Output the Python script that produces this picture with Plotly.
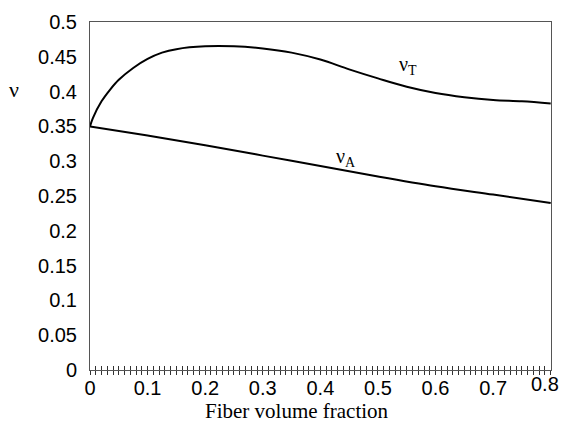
import plotly.graph_objects as go

# Data
vf_T = [0.0, 0.005, 0.02, 0.035, 0.05, 0.075, 0.1, 0.125, 0.15, 0.2, 0.25, 0.3, 0.35, 0.4, 0.45, 0.5, 0.55, 0.6, 0.65, 0.7, 0.75, 0.8]
nu_T = [0.35, 0.362, 0.386, 0.403, 0.417, 0.434, 0.447, 0.456, 0.461, 0.465, 0.465, 0.462, 0.456, 0.446, 0.432, 0.419, 0.407, 0.398, 0.392, 0.388, 0.386, 0.383]

vf_A = [0.0, 0.1, 0.2, 0.3, 0.4, 0.5, 0.6, 0.7, 0.8]
nu_A = [0.35, 0.337, 0.323, 0.308, 0.293, 0.278, 0.264, 0.252, 0.24]

x_ticks = [0, 0.1, 0.2, 0.3, 0.4, 0.5, 0.6, 0.7, 0.8]
x_tick_text = ["0", "0.1", "0.2", "0.3", "0.4", "0.5", "0.6", "0.7", "0.8"]
y_ticks = [0, 0.05, 0.1, 0.15, 0.2, 0.25, 0.3, 0.35, 0.4, 0.45, 0.5]
y_tick_text = ["0", "0.05", "0.1", "0.15", "0.2", "0.25", "0.3", "0.35", "0.4", "0.45", "0.5"]

fig = go.Figure()
fig.add_trace(go.Scatter(x=vf_T, y=nu_T, mode="lines", line=dict(color="black", width=2, shape="spline", smoothing=1.0), showlegend=False))
fig.add_trace(go.Scatter(x=vf_A, y=nu_A, mode="lines", line=dict(color="black", width=2, shape="spline"), showlegend=False))
fig.add_trace(go.Scatter(x=[0, 0.8], y=[0, 0], xaxis="x2", mode="lines", line=dict(width=0), hoverinfo="skip", showlegend=False))

annotations = [
    dict(text="Fiber volume fraction", xref="paper", yref="paper", x=0.448, y=-0.119,
         showarrow=False, xanchor="center", yanchor="middle",
         font=dict(family="Liberation Serif, Times New Roman", size=21)),
    dict(text="ν", xref="paper", yref="paper", x=-0.165, y=0.807,
         showarrow=False, xanchor="center", yanchor="middle",
         font=dict(family="Liberation Serif, Times New Roman", size=22)),
    dict(text="ν<sub>T</sub>", x=0.553, y=0.438, xref="x", yref="y",
         showarrow=False, xanchor="center", yanchor="middle",
         font=dict(family="Liberation Serif, Times New Roman", size=20)),
    dict(text="ν<sub>A</sub>", x=0.445, y=0.306, xref="x", yref="y",
         showarrow=False, xanchor="center", yanchor="middle",
         font=dict(family="Liberation Serif, Times New Roman", size=20)),
    # last x tick label, nudged left so it stays inside the page like in the reference
    dict(text=x_tick_text[-1], x=x_ticks[-1], y=0, xref="x", yref="paper",
         showarrow=False, xanchor="center", yanchor="top", xshift=-6, yshift=-1,
         font=dict(family="Liberation Sans, Arial", size=20)),
]

fig.update_layout(
    width=563, height=427,
    margin=dict(l=90, r=11, t=17, b=57),
    paper_bgcolor="white", plot_bgcolor="white",
    font=dict(family="Liberation Sans, Arial", size=20, color="black"),
    xaxis=dict(range=[0, 0.8005], tickvals=x_ticks[:-1], ticktext=x_tick_text[:-1],
               showgrid=False, zeroline=False,
               showline=True, linecolor="#555", linewidth=1, mirror=True,
               ticks="inside", ticklen=4, tickcolor="#333", tickwidth=1,
               minor=dict(dtick=0.01, tick0=0, ticks="inside", ticklen=4, tickcolor="#333", tickwidth=1),
               tickfont=dict(size=20)),
    xaxis2=dict(range=[0, 0.8005], overlaying="x", anchor="y", side="bottom",
                showgrid=False, zeroline=False, showline=False, showticklabels=False,
                ticks="outside", dtick=0.01, tick0=0, ticklen=4, tickcolor="#333", tickwidth=1),
    yaxis=dict(range=[0, 0.5], tickvals=y_ticks, ticktext=y_tick_text,
               showgrid=False, zeroline=False,
               showline=True, linecolor="#555", linewidth=1, mirror=True,
               ticks="", ticklabelstandoff=8, tickfont=dict(size=20)),
    annotations=annotations,
)

fig.write_html("out.html", config={"displayModeBar": False},
               post_script="document.body.style.margin='0';")
